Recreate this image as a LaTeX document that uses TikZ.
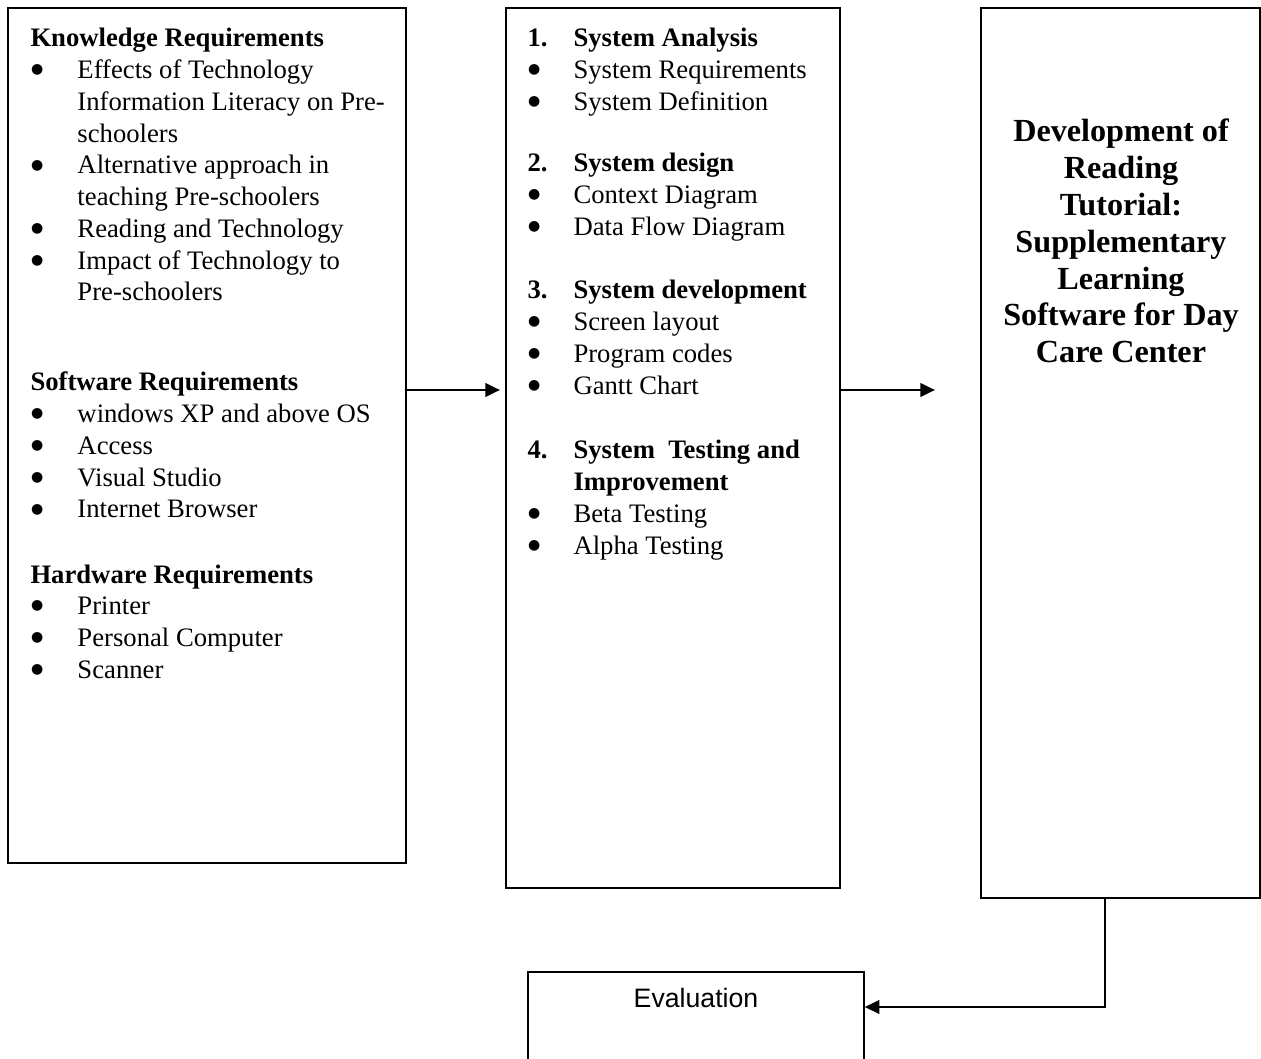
\documentclass[tikz,border=0pt]{standalone}
\usepackage{fontspec}
\setmainfont{Liberation Serif}
\setsansfont{Liberation Sans}
\newfontfamily\symfont{DejaVu Sans}
\usetikzlibrary{arrows.meta}

\newcommand{\bodysize}{\fontsize{20}{23.8}\selectfont}
\newcommand{\titlesize}{\fontsize{24.15}{27.6}\selectfont}
\newcommand{\bul}{\hspace{0.5pt}\raisebox{3.6pt}{\symfont\fontsize{10.5}{10.5}\selectfont ●}}

\tikzset{every picture/.style={line width=0.75pt}}
\tikzset{
  box/.style={draw, rectangle, line width=1.5pt, inner sep=0pt},
  flow/.style={line width=2.2pt, -{Triangle[length=11pt,width=10pt]}},
  txt/.style={anchor=base west, inner sep=0pt, font=\bodysize},
}

\begin{document}
\begin{tikzpicture}[x=0.75pt,y=0.75pt,yscale=-1,xscale=1]
\useasboundingbox (0,0) rectangle (1261,1059);

%Shape: Rectangle [id:inputs]
\node [box, minimum width=298.5pt, minimum height=641.25pt] (inputs) at (207,435.5) {};
%Shape: Rectangle [id:process]
\node [box, minimum width=250.5pt, minimum height=660pt] (process) at (673,448) {};
%Shape: Rectangle [id:output]
\node [box, minimum width=209.25pt, minimum height=667.5pt] (output) at (1120.5,453) {};
%Shape: Rectangle [id:evaluation]
\node [box, line width=1pt, minimum width=252pt, minimum height=105pt] (evaluation) at (696,1042) {};

% Text Node
\node [txt] (know) at (30,47) {\begin{tabular}[t]{@{}p{35.25pt}@{}l@{}}
\multicolumn{2}{@{}l@{}}{\bfseries Knowledge Requirements}\\
\bul & Effects of Technology\\
 & Information Literacy on Pre-\\
 & schoolers\\
\bul & Alternative approach in\\
 & teaching Pre-schoolers\\
\bul & Reading and Technology\\
\bul & Impact of Technology to\\
 & Pre-schoolers
\end{tabular}};
% Text Node
\node [txt] (soft) at (30,391) {\begin{tabular}[t]{@{}p{35.25pt}@{}l@{}}
\multicolumn{2}{@{}l@{}}{\bfseries Software Requirements}\\
\bul & windows XP and above OS\\
\bul & Access\\
\bul & Visual Studio\\
\bul & Internet Browser
\end{tabular}};
% Text Node
\node [txt] (hard) at (30,583) {\begin{tabular}[t]{@{}p{35.25pt}@{}l@{}}
\multicolumn{2}{@{}l@{}}{\bfseries Hardware Requirements}\\
\bul & Printer\\
\bul & Personal Computer\\
\bul & Scanner
\end{tabular}};

% Text Node
\node [txt] (analysis) at (527,47) {\begin{tabular}[t]{@{}p{34.5pt}@{}l@{}}
\bfseries 1. & \bfseries System Analysis\\
\bul & System Requirements\\
\bul & System Definition
\end{tabular}};
% Text Node
\node [txt] (design) at (527,172) {\begin{tabular}[t]{@{}p{34.5pt}@{}l@{}}
\bfseries 2. & \bfseries System design\\
\bul & Context Diagram\\
\bul & Data Flow Diagram
\end{tabular}};
% Text Node
\node [txt] (develop) at (527,299) {\begin{tabular}[t]{@{}p{34.5pt}@{}l@{}}
\bfseries 3. & \bfseries System development\\
\bul & Screen layout\\
\bul & Program codes\\
\bul & Gantt Chart
\end{tabular}};
% Text Node
\node [txt] (testing) at (527,459) {\begin{tabular}[t]{@{}p{34.5pt}@{}l@{}}
\bfseries 4. & \bfseries System\ \ Testing and\\
 & \bfseries Improvement\\
\bul & Beta Testing\\
\bul & Alpha Testing
\end{tabular}};

% Text Node
\node [anchor=base, inner sep=0pt, font=\titlesize\bfseries] (title) at (1121,142) {\begin{tabular}[t]{@{}c@{}}
Development of\\
Reading\\
Tutorial:\\
Supplementary\\
Learning\\
Software for Day\\
Care Center
\end{tabular}};
% Text Node
\node [anchor=base, inner sep=0pt, font=\sffamily\fontsize{20}{23}\selectfont] (evaltxt) at (696,1007) {Evaluation};

%Straight Lines
\coordinate (in1) at (500,390);
\draw [flow] (in1 -| inputs.east) -- (in1);
%Straight Lines
\coordinate (in2) at (935,390);
\draw [flow] (in2 -| process.east) -- (in2);
%Straight Lines
\coordinate (turn) at (1105,1007);
\draw [flow] (turn |- output.south) -- (turn) -- (turn -| evaluation.east);

\end{tikzpicture}
\end{document}
